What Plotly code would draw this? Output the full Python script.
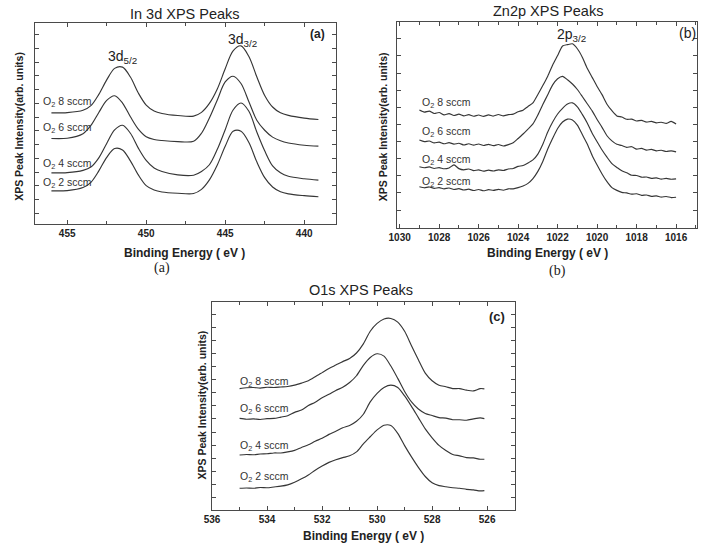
import plotly.graph_objects as go

W, H = 706, 549

# ---------------- data ----------------
# (a) In 3d
energy_a = [456, 455, 454, 453.5, 453, 452.5, 452, 451.5, 451, 450.5, 450, 449.5, 449,
            448, 447, 446.5, 446, 445.5, 445, 444.5, 444, 443.5, 443, 442.5, 442, 441.5,
            441, 440, 439.1]
in3d_8 = [7.31, 7.33, 7.50, 7.84, 8.66, 9.71, 10.55, 10.64, 9.92, 8.76, 7.88, 7.45, 7.27,
          7.12, 7.08, 7.35, 8.00, 9.05, 10.52, 11.83, 12.19, 11.41, 9.94, 8.58, 7.74, 7.32,
          7.13, 6.93, 6.83]
in3d_6 = [5.45, 5.47, 5.80, 6.40, 7.34, 8.22, 8.56, 8.03, 7.03, 6.13, 5.58, 5.38, 5.30,
          5.22, 5.25, 5.83, 6.94, 8.25, 9.56, 9.98, 9.45, 8.12, 6.78, 6.05, 5.55, 5.28,
          5.12, 4.96, 4.89]
in3d_4 = [2.95, 2.97, 3.13, 3.37, 4.04, 5.09, 6.07, 6.41, 5.83, 4.75, 3.85, 3.30, 3.05,
          2.80, 2.78, 3.05, 3.54, 4.66, 6.09, 7.52, 8.03, 7.43, 5.92, 4.55, 3.45, 2.95,
          2.70, 2.52, 2.42]
in3d_2 = [1.64, 1.66, 1.88, 2.26, 3.09, 4.08, 4.72, 4.62, 3.82, 2.80, 2.02, 1.70, 1.56,
          1.47, 1.45, 1.75, 2.44, 3.52, 4.88, 5.97, 5.98, 5.16, 3.75, 2.60, 1.92, 1.57,
          1.42, 1.29, 1.21]

# (b) Zn 2p
energy_b = [1029.0, 1028.75, 1028.5, 1028.25, 1028.0, 1027.75, 1027.5, 1027.25, 1027.0,
            1026.75, 1026.5, 1026.25, 1026.0, 1025.75, 1025.5, 1025.25, 1025.0, 1024.75,
            1024.5, 1024.25, 1024.0, 1023.75, 1023.5, 1023.25, 1023.0, 1022.75, 1022.5,
            1022.25, 1022.0, 1021.75, 1021.5, 1021.25, 1021.0, 1020.75, 1020.5, 1020.25,
            1020.0, 1019.75, 1019.5, 1019.25, 1019.0, 1018.75, 1018.5, 1018.25, 1018.0,
            1017.75, 1017.5, 1017.25, 1017.0, 1016.75, 1016.5, 1016.25, 1016.0]
zn2p_8 = [5.84, 5.72, 5.78, 5.64, 5.70, 5.56, 5.63, 5.52, 5.60, 5.50, 5.57, 5.48, 5.55,
          5.47, 5.56, 5.49, 5.58, 5.50, 5.57, 5.60, 5.74, 5.83, 6.05, 6.26, 6.75, 7.27,
          7.82, 8.47, 9.02, 9.58, 9.66, 9.71, 9.42, 8.93, 8.28, 7.75, 7.22, 6.74, 6.18,
          5.80, 5.50, 5.43, 5.30, 5.31, 5.20, 5.24, 5.14, 5.18, 5.09, 5.13, 5.06, 5.18, 5.02]
zn2p_6 = [4.09, 4.00, 4.03, 3.92, 3.97, 3.87, 3.94, 3.85, 3.90, 3.80, 3.87, 3.79, 3.86,
          3.77, 3.84, 3.76, 3.83, 3.74, 3.82, 3.93, 4.18, 4.44, 4.73, 5.03, 5.55, 6.16,
          6.74, 7.31, 7.67, 7.81, 7.61, 7.36, 7.04, 6.63, 6.21, 5.79, 5.29, 4.83, 4.34,
          4.04, 3.84, 3.77, 3.66, 3.70, 3.56, 3.60, 3.50, 3.54, 3.46, 3.49, 3.42, 3.46, 3.40]
zn2p_4 = [2.53, 2.47, 2.52, 2.43, 2.48, 2.41, 2.46, 2.64, 2.42, 2.35, 2.40, 2.30, 2.35,
          2.27, 2.33, 2.28, 2.35, 2.31, 2.40, 2.43, 2.55, 2.60, 2.75, 2.93, 3.27, 3.84,
          4.56, 5.14, 5.61, 5.94, 6.19, 6.26, 6.03, 5.59, 5.09, 4.49, 3.99, 3.51, 3.09,
          2.71, 2.49, 2.29, 2.18, 2.03, 2.02, 1.92, 1.93, 1.85, 1.88, 1.81, 1.85, 1.80, 1.82]
zn2p_2 = [1.36, 1.30, 1.35, 1.27, 1.31, 1.24, 1.29, 1.20, 1.25, 1.17, 1.22, 1.14, 1.20,
          1.13, 1.19, 1.15, 1.21, 1.16, 1.24, 1.24, 1.31, 1.41, 1.56, 1.84, 2.26, 2.84,
          3.56, 4.19, 4.76, 5.14, 5.31, 5.26, 4.96, 4.41, 3.86, 3.19, 2.63, 2.11, 1.66,
          1.31, 1.15, 1.03, 1.00, 0.93, 0.95, 0.86, 0.88, 0.80, 0.83, 0.76, 0.79, 0.73, 0.75]

# (c) O 1s
energy_c = [535.0, 534.75, 534.5, 534.25, 534.0, 533.75, 533.5, 533.25, 533.0, 532.75,
            532.5, 532.25, 532.0, 531.75, 531.5, 531.25, 531.0, 530.75, 530.5, 530.25,
            530.0, 529.75, 529.5, 529.25, 529.0, 528.75, 528.5, 528.25, 528.0, 527.75,
            527.5, 527.25, 527.0, 526.75, 526.5, 526.25, 526.1]
o1s_8 = [3.66, 3.69, 3.70, 3.68, 3.71, 3.70, 3.72, 3.74, 3.79, 3.87, 3.96, 4.11, 4.27,
         4.43, 4.56, 4.69, 4.81, 5.02, 5.37, 5.85, 6.15, 6.32, 6.34, 6.20, 5.85, 5.30,
         4.76, 4.25, 3.96, 3.79, 3.73, 3.66, 3.66, 3.60, 3.57, 3.66, 3.65]
o1s_6 = [2.52, 2.49, 2.50, 2.48, 2.51, 2.52, 2.57, 2.62, 2.75, 2.84, 3.01, 3.14, 3.31,
         3.44, 3.59, 3.71, 3.89, 4.15, 4.55, 4.85, 4.99, 4.90, 4.52, 4.05, 3.55, 3.15,
         2.88, 2.71, 2.63, 2.55, 2.53, 2.47, 2.47, 2.45, 2.50, 2.54, 2.51]
o1s_4 = [1.12, 1.14, 1.13, 1.16, 1.17, 1.20, 1.20, 1.24, 1.30, 1.41, 1.51, 1.65, 1.76,
         1.91, 2.03, 2.16, 2.25, 2.41, 2.68, 3.15, 3.48, 3.70, 3.79, 3.70, 3.38, 2.98,
         2.55, 2.12, 1.78, 1.49, 1.29, 1.14, 1.09, 1.02, 1.01, 0.96, 0.96]
o1s_2 = [-0.15, -0.14, -0.15, -0.12, -0.13, -0.10, -0.07, -0.02, 0.08, 0.21, 0.36, 0.54,
         0.70, 0.84, 0.94, 1.02, 1.09, 1.24, 1.55, 1.82, 2.08, 2.26, 2.25, 1.95, 1.48,
         1.05, 0.65, 0.30, 0.06, -0.05, -0.09, -0.13, -0.15, -0.19, -0.21, -0.25, -0.24]

series_labels = ["O<sub>2</sub> 8 sccm", "O<sub>2</sub> 6 sccm",
                 "O<sub>2</sub> 4 sccm", "O<sub>2</sub> 2 sccm"]
label_y_a = [8.10, 6.24, 3.58, 2.22]
label_y_b = [6.23, 4.57, 2.92, 1.65]
label_y_c = [3.92, 2.87, 1.48, 0.29]

# ---------------- figure ----------------
LINE = "#363636"
AX = "#4a4a4a"
TXT = "#222222"
SANS = "Liberation Sans, Arial, sans-serif"
SERIF = "Liberation Serif, Times New Roman, serif"

fig = go.Figure()
panels = [
    ("x", "y", energy_a, [in3d_8, in3d_6, in3d_4, in3d_2], 0.9),
    ("x2", "y2", energy_b, [zn2p_8, zn2p_6, zn2p_4, zn2p_2], 0.6),
    ("x3", "y3", energy_c, [o1s_8, o1s_6, o1s_4, o1s_2], 0.7),
]
for xa, ya, xs, ys_list, sm in panels:
    for ys in ys_list:
        fig.add_trace(go.Scatter(x=xs, y=ys, xaxis=xa, yaxis=ya, mode="lines",
                                 line=dict(color=LINE, width=1.15, shape="spline", smoothing=sm),
                                 showlegend=False, hoverinfo="skip"))


def px2paper(x, y):
    return x / W, 1 - y / H


def xaxis_cfg(dom, rng, dtick, minor_dtick):
    return dict(domain=dom, range=rng, dtick=dtick, showline=True, linecolor=AX, linewidth=1,
                mirror="ticks", ticks="inside", ticklen=4, tickcolor=AX, tickwidth=1,
                showgrid=False, zeroline=False,
                tickfont=dict(family=SANS, size=10, color=TXT, weight="bold"),
                minor=dict(dtick=minor_dtick, ticks="inside", ticklen=3, tickcolor=AX,
                           showgrid=False))


def yaxis_cfg(dom, rng, dtick):
    return dict(domain=dom, range=rng, dtick=dtick, showline=True, linecolor=AX, linewidth=1,
                mirror="ticks", ticks="inside", ticklen=4, tickcolor=AX, tickwidth=1,
                showgrid=False, zeroline=False, showticklabels=False)


fig.update_layout(
    width=W, height=H, margin=dict(l=0, r=0, t=0, b=0),
    paper_bgcolor="white", plot_bgcolor="white",
    xaxis=xaxis_cfg([26 / W, 331 / W], [457.06, 438.0], 5, 2.5),
    yaxis=yaxis_cfg([1 - 224 / H, 1 - 23 / H], [-0.77, 13.85], 1),
    xaxis2=xaxis_cfg([393.3 / W, 697.3 / W], [1030.12, 1014.92], 2, 1),
    yaxis2=yaxis_cfg([1 - 227.7 / H, 1 - 21.7 / H], [-1.03, 11.0], 1),
    xaxis3=xaxis_cfg([205.7 / W, 513.0 / W], [536.0, 524.97], 2, 1),
    yaxis3=yaxis_cfg([1 - 510 / H, 1 - 301.7 / H], [-0.98, 6.98], 0.5),
)
fig.layout.xaxis.anchor = "y"
fig.layout.yaxis.anchor = "x"
fig.layout.xaxis2.anchor = "y2"
fig.layout.yaxis2.anchor = "x2"
fig.layout.xaxis3.anchor = "y3"
fig.layout.yaxis3.anchor = "x3"

ann = []


def paper_text(x, y, text, size, bold=False, family=SANS, angle=0, xanchor="center"):
    px, py = px2paper(x, y)
    ann.append(dict(x=px, y=py, xref="paper", yref="paper", text=text, showarrow=False,
                    xanchor=xanchor, yanchor="middle", textangle=angle,
                    font=dict(family=family, size=size, color=TXT,
                              weight="bold" if bold else "normal")))


# panel titles
paper_text(178, 13.5, "In 3d XPS Peaks", 14.5)
paper_text(546, 11.5, "Zn2p XPS Peaks", 14.5)
paper_text(357, 290, "O1s XPS Peaks", 14.5)
# x-axis titles
for cx, cy in [(178, 253.3), (545.5, 252.5), (359, 535.7)]:
    paper_text(cx, cy, "Binding Energy ( eV )", 12, bold=True)
# y-axis titles
for cx, cy in [(10, 126), (378.3, 126.7), (195, 405)]:
    paper_text(cx, cy, "XPS Peak Intensity(arb. units)", 10.5, bold=True, angle=-90)
# panel tags
paper_text(312.5, 34.3, "(a)", 12, bold=True)
paper_text(687.5, 33.3, "(b)", 14)
paper_text(494.5, 316.7, "(c)", 13, bold=True)
# sub-figure captions
paper_text(155, 268.3, "(a)", 14, family=SERIF)
paper_text(555.5, 270.5, "(b)", 14, family=SERIF)
# peak labels
paper_text(114.5, 57, "3d<sub>5/2</sub>", 14)
paper_text(237, 40, "3d<sub>3/2</sub>", 14)
paper_text(570, 35, "2p<sub>3/2</sub>", 14)

# series labels (data coordinates)
for xr, yr, xleft, ys in [("x", "y", 456.64, label_y_a), ("x2", "y2", 1028.99, label_y_b),
                          ("x3", "y3", 535.05, label_y_c)]:
    for txt, yy in zip(series_labels, ys):
        ann.append(dict(x=xleft, y=yy, xref=xr, yref=yr, text=txt, showarrow=False,
                        xanchor="left", yanchor="middle",
                        font=dict(family=SANS, size=10.5, color="#333333")))

fig.update_layout(annotations=ann)
fig.write_html("out.html")
